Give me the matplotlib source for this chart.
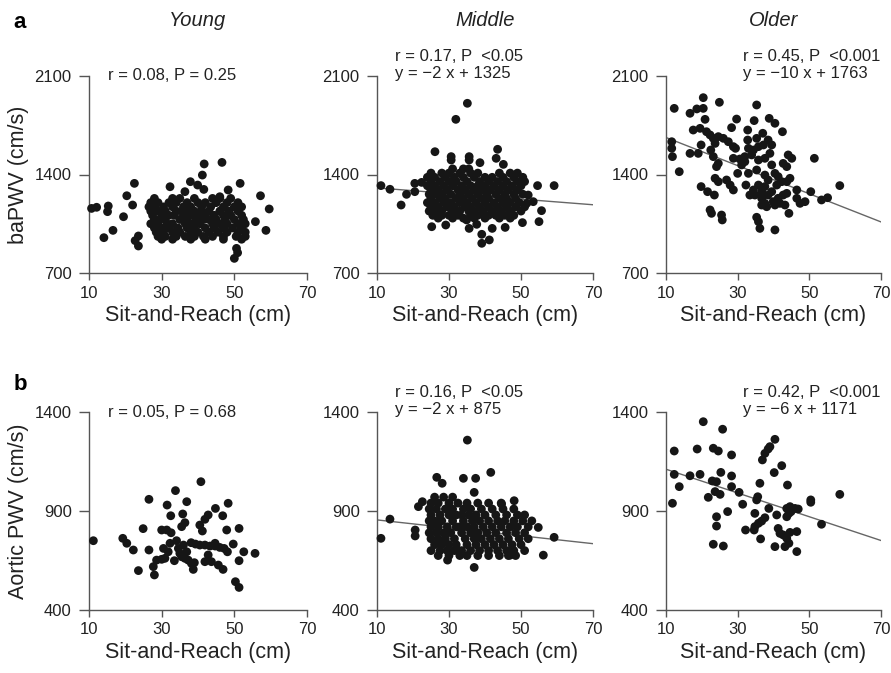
import matplotlib
matplotlib.use("Agg")
import matplotlib.pyplot as plt
import numpy as np

plt.rcParams["font.family"] = ["Liberation Sans", "DejaVu Sans"]

W, H = 891, 673

# --- data (sit-and-reach cm, PWV cm/s) ---
groups = ["Young", "Middle", "Older"]
x_ticks = [10, 30, 50, 70]
ba_ticks = [700, 1400, 2100]
ao_ticks = [400, 900, 1400]

young_ba = [
    (41.7, 1475), (46.6, 1486), (41.2, 1396), (22.5, 1337), (51.6, 1337), (37.9, 1349),
    (39.9, 1325), (41.6, 1294), (20.4, 1249), (57.2, 1249), (59.6, 1155), (22.0, 1183),
    (19.5, 1100), (16.6, 1003), (14.1, 951), (55.8, 1065), (58.7, 1003), (10.7, 1159),
    (12.1, 1167), (15.3, 1176), (15.1, 1136), (23.6, 963), (22.7, 930), (23.6, 892),
    (50.6, 875), (50.0, 804), (50.9, 844), (32.3, 1313), (36.4, 1278), (48.3, 1290),
    (46.0, 1242),
    (28, 1230), (33, 1230), (35, 1230), (39, 1230), (44, 1230), (46, 1230), (49, 1230),
    (27, 1200), (29, 1200), (32, 1200), (34, 1200), (37, 1200), (40, 1200), (42, 1200),
    (45, 1200), (48, 1200), (51, 1200),
    (26.5, 1170), (28, 1170), (30.5, 1170), (33, 1170), (36, 1170), (38, 1170), (41, 1170),
    (43.5, 1170), (47, 1170), (50, 1170), (52, 1170),
    (27, 1140), (29, 1140), (31, 1140), (34, 1140), (35.5, 1140), (37.5, 1140), (39, 1140),
    (41, 1140), (43, 1140), (46, 1140), (48.5, 1140), (51, 1140),
    (27.5, 1110), (30, 1110), (32, 1110), (33.5, 1110), (36, 1110), (38, 1110), (40, 1110),
    (42, 1110), (44.5, 1110), (47, 1110), (49, 1110), (52, 1110),
    (28, 1080), (29.5, 1080), (31, 1080), (35, 1080), (37, 1080), (39.5, 1080), (41.5, 1080),
    (43, 1080), (45, 1080), (47.5, 1080), (50, 1080), (52.5, 1080),
    (27, 1050), (29, 1050), (31.5, 1050), (33, 1050), (36.5, 1050), (38.5, 1050), (40.5, 1050),
    (44, 1050), (46, 1050), (48, 1050), (51, 1050), (53, 1050),
    (28, 1020), (30, 1020), (32, 1020), (34.5, 1020), (37, 1020), (39, 1020), (42, 1020),
    (44.5, 1020), (47, 1020), (49.5, 1020), (52, 1020),
    (28.5, 990), (30.5, 990), (33, 990), (35, 990), (38, 990), (40, 990), (43, 990),
    (45.5, 990), (48, 990), (51, 990), (53, 990),
    (29, 960), (31, 960), (34, 960), (36.5, 960), (39, 960), (41.5, 960), (44, 960),
    (47, 960), (50.5, 960), (53, 960),
    (30, 940), (33, 940), (38, 940), (42, 940), (47, 940), (52, 940),
]

middle_ba = [
    (35.1, 1906), (31.9, 1792), (26.1, 1562), (30.6, 1527), (30.6, 1503), (35.6, 1527),
    (35.6, 1503), (38.6, 1484), (43.5, 1579), (43.1, 1515), (45.1, 1472), (11.1, 1321),
    (13.6, 1295), (16.7, 1183), (18.2, 1259), (20.5, 1337), (22.4, 1344), (20.5, 1278),
    (54.6, 1321), (59.2, 1321), (55.7, 1143), (55.0, 1065), (50.4, 1058), (25.2, 1029),
    (29.1, 1041), (35.6, 1017), (39.1, 975), (39.1, 911), (41.2, 935), (34.9, 1077),
    (37.7, 1046), (42.0, 1017), (45.6, 1024), (52.0, 1254), (51.6, 1195), (53.4, 1207),
    (31, 1440), (34, 1440), (35.5, 1440),
    (25, 1410), (28, 1410), (30, 1410), (33, 1410), (36, 1410), (38, 1410), (44, 1410),
    (47, 1410), (49, 1410),
    (24, 1380), (26, 1380), (29, 1380), (31.5, 1380), (34, 1380), (37, 1380), (40, 1380),
    (42, 1380), (45, 1380), (48, 1380), (50.5, 1380),
    (25, 1350), (27.5, 1350), (30, 1350), (32, 1350), (35, 1350), (38.5, 1350), (41, 1350),
    (43.5, 1350), (46, 1350), (49, 1350), (51, 1350),
    (24, 1320), (26, 1320), (28.5, 1320), (31, 1320), (33.5, 1320), (36, 1320), (38, 1320),
    (40, 1320), (42.5, 1320), (45, 1320), (47.5, 1320), (50, 1320),
    (25, 1290), (27, 1290), (29.5, 1290), (32.5, 1290), (34.5, 1290), (37, 1290), (39.5, 1290),
    (41.5, 1290), (44, 1290), (46.5, 1290), (49, 1290),
    (24.5, 1260), (26.5, 1260), (28, 1260), (30.5, 1260), (33, 1260), (35.5, 1260), (38, 1260),
    (40.5, 1260), (43, 1260), (45.5, 1260), (48, 1260), (50.5, 1260),
    (25, 1230), (27.5, 1230), (29, 1230), (32, 1230), (34, 1230), (36.5, 1230), (39, 1230),
    (41, 1230), (44, 1230), (46, 1230), (48.5, 1230),
    (24, 1200), (26, 1200), (28.5, 1200), (30.5, 1200), (33, 1200), (35, 1200), (37.5, 1200),
    (40, 1200), (42.5, 1200), (45, 1200), (47, 1200), (49.5, 1200),
    (25, 1170), (27, 1170), (29.5, 1170), (31.5, 1170), (34.5, 1170), (36, 1170), (38.5, 1170),
    (41, 1170), (43.5, 1170), (46, 1170), (48.5, 1170), (51, 1170),
    (24.5, 1140), (26.5, 1140), (28, 1140), (31, 1140), (33, 1140), (35.5, 1140), (37, 1140),
    (39.5, 1140), (42, 1140), (44.5, 1140), (47, 1140), (50, 1140),
    (25.5, 1110), (28, 1110), (30, 1110), (32.5, 1110), (36, 1110), (38, 1110), (41, 1110),
    (43, 1110), (45.5, 1110), (48, 1110),
    (27, 1090), (31, 1090), (34, 1090), (37, 1090), (40, 1090), (44, 1090), (47, 1090),
]

older_ba = [
    (12.3, 1870), (20.4, 1946), (24.9, 1913), (35.3, 1894), (16.7, 1835), (18.6, 1866),
    (20.4, 1870), (20.9, 1792), (29.7, 1794), (34.6, 1783), (38.8, 1799), (40.4, 1764),
    (28.3, 1733), (32.8, 1716), (37.0, 1693), (42.5, 1704), (17.6, 1716), (19.5, 1728),
    (21.3, 1704), (22.3, 1681), (23.2, 1657), (24.6, 1669), (26.0, 1657), (23.7, 1621),
    (27.4, 1633), (28.8, 1598), (29.4, 1586), (11.6, 1633), (11.6, 1586), (11.8, 1527),
    (19.8, 1610), (16.7, 1550), (19.0, 1550), (22.5, 1574), (23.2, 1527), (24.6, 1479),
    (24.1, 1456), (13.7, 1420), (32.8, 1645), (33.0, 1586), (35.3, 1657), (35.8, 1598),
    (34.4, 1574), (38.5, 1645), (39.5, 1610), (37.2, 1610), (28.8, 1515), (30.6, 1510),
    (32.0, 1527), (33.9, 1539), (35.8, 1503), (37.6, 1515), (39.0, 1550), (31.1, 1468),
    (32.0, 1491), (30.0, 1408), (33.0, 1408), (35.3, 1432), (39.5, 1468), (42.7, 1479),
    (43.7, 1456), (44.1, 1539), (45.1, 1515), (51.4, 1515), (23.7, 1373), (24.6, 1349),
    (26.9, 1361), (27.9, 1325), (28.8, 1290), (19.8, 1314), (21.6, 1278), (23.5, 1254),
    (32.3, 1325), (37.6, 1396), (38.5, 1361), (40.4, 1408), (41.3, 1385), (42.3, 1349),
    (43.7, 1349), (44.6, 1373), (40.9, 1325), (39.5, 1278), (37.6, 1314), (36.7, 1278),
    (35.8, 1325), (34.4, 1290), (33.4, 1254), (34.8, 1254), (36.7, 1231), (37.6, 1195),
    (38.5, 1254), (39.9, 1207), (41.3, 1231), (42.7, 1254), (43.7, 1266), (43.2, 1183),
    (41.8, 1195), (40.4, 1183), (38.1, 1171), (36.7, 1183), (46.5, 1290), (46.5, 1231),
    (47.4, 1195), (48.8, 1207), (50.4, 1278), (53.4, 1219), (55.1, 1235), (58.5, 1321),
    (22.3, 1148), (22.7, 1124), (25.5, 1112), (25.7, 1077), (35.3, 1096), (35.8, 1065),
    (36.2, 1017), (40.4, 1006), (44.3, 1124),
]

young_ao = [
    (40.8, 1048), (33.8, 1003), (26.5, 959), (36.9, 947), (31.5, 930), (48.3, 939),
    (44.8, 913), (46.8, 876), (32.5, 876), (35.8, 885), (42.8, 880), (41.9, 858),
    (40.5, 829), (41.2, 799), (36.4, 841), (35.5, 821), (24.9, 811), (30.0, 804),
    (31.4, 804), (32.6, 790), (47.9, 804), (51.3, 812), (11.2, 750), (19.3, 762),
    (20.4, 737), (22.2, 703), (26.5, 703), (30.5, 711), (32.3, 737), (31.8, 694),
    (34.1, 750), (34.6, 711), (35.0, 686), (35.5, 669), (36.4, 661), (36.9, 694),
    (36.0, 728), (38.1, 740), (39.3, 733), (40.5, 728), (41.9, 728), (43.3, 723),
    (44.7, 723), (46.0, 716), (47.2, 711), (48.1, 694), (44.7, 737), (42.8, 678),
    (43.7, 644), (41.9, 644), (45.6, 627), (46.9, 605), (49.7, 733), (52.6, 694),
    (55.7, 686), (51.3, 649), (28.6, 652), (30.0, 656), (27.7, 619), (28.0, 577),
    (23.6, 599), (33.5, 649), (38.7, 605), (38.2, 635), (37.3, 652), (39.0, 639),
    (50.3, 543), (51.3, 514), (30.9, 661),
]

middle_ao = [
    (35.1, 1258), (41.6, 1095), (26.6, 1070), (28.1, 1040), (34.0, 1065), (37.4, 1065),
    (37.0, 994), (11.1, 762), (13.6, 859), (20.6, 804), (20.6, 774), (21.5, 922),
    (22.6, 947), (59.2, 767), (56.2, 677), (29.6, 652), (37.0, 615), (48.1, 952),
    (44.6, 935), (54.8, 817), (47.0, 677), (47.9, 686),
    (26, 970), (28.5, 970), (31, 970),
    (25, 940), (27, 940), (30, 940), (32.5, 940), (35, 940), (38, 940), (41, 940), (44.5, 940),
    (24.5, 910), (26.5, 910), (29, 910), (31, 910), (34, 910), (36, 910), (39, 910),
    (42, 910), (45, 910), (48, 910),
    (25, 880), (27.5, 880), (30, 880), (32, 880), (33.5, 880), (35.5, 880), (37.5, 880),
    (40, 880), (43, 880), (46, 880), (49, 880), (51, 880),
    (24.5, 850), (26, 850), (28, 850), (31, 850), (34, 850), (36.5, 850), (38.5, 850),
    (41, 850), (43.5, 850), (45.5, 850), (48, 850), (50.5, 850), (53, 850),
    (25, 820), (27, 820), (29.5, 820), (32, 820), (33, 820), (35, 820), (37, 820),
    (39.5, 820), (42, 820), (44.5, 820), (47, 820), (49, 820), (52, 820),
    (24.5, 790), (26.5, 790), (28.5, 790), (30.5, 790), (33.5, 790), (36, 790), (38, 790),
    (40.5, 790), (43, 790), (46, 790), (48.5, 790), (51, 790),
    (25, 760), (27, 760), (29, 760), (31.5, 760), (34.5, 760), (37, 760), (39, 760),
    (41.5, 760), (44, 760), (46.5, 760), (49.5, 760), (52, 760),
    (26, 730), (28, 730), (30, 730), (32, 730), (35, 730), (37.5, 730), (40, 730),
    (42.5, 730), (45, 730), (47.5, 730), (50, 730),
    (25, 700), (27.5, 700), (29.5, 700), (31.5, 700), (33.5, 700), (36, 700), (38.5, 700),
    (41, 700), (43.5, 700), (46, 700), (48, 700), (51, 700),
    (27, 675), (30, 675), (33, 675), (35, 675), (38, 675), (41, 675), (44, 675),
    (46.5, 675), (48.5, 675),
]

older_ao = [
    (20.4, 1351), (25.8, 1313), (40.4, 1262), (39.0, 1225), (38.5, 1213), (37.6, 1191),
    (36.9, 1158), (12.3, 1203), (18.7, 1213), (23.2, 1217), (24.6, 1203), (28.3, 1183),
    (42.3, 1129), (40.2, 1094), (12.3, 1085), (16.7, 1078), (19.5, 1085), (25.3, 1095),
    (28.3, 1077), (22.9, 1052), (24.1, 1048), (13.7, 1023), (28.3, 1023), (23.7, 998),
    (25.1, 984), (30.4, 994), (36.2, 1040), (43.9, 1031), (21.8, 969), (11.8, 939),
    (35.6, 972), (35.3, 956), (31.4, 934), (50.4, 956), (50.4, 944), (58.5, 984),
    (27.2, 897), (24.1, 871), (24.1, 824), (34.8, 888), (38.7, 913), (40.9, 880),
    (43.7, 913), (44.6, 922), (46.0, 913), (46.9, 910), (44.3, 888), (43.7, 871),
    (44.9, 897), (37.6, 866), (36.7, 849), (35.8, 838), (34.8, 821), (34.6, 804),
    (32.2, 804), (36.4, 759), (41.3, 812), (41.8, 787), (42.7, 779), (43.7, 762),
    (44.6, 792), (46.5, 796), (44.3, 737), (43.2, 720), (40.4, 720), (46.5, 695),
    (53.4, 833), (23.2, 732), (26.0, 723),
]

# regression (slope, intercept); None when not significant
ba_fits = [None, (-2, 1325), (-10, 1763)]
ao_fits = [None, (-2, 875), (-6, 1171)]

ba_stats = ["r = 0.08, P = 0.25",
            "r = 0.17, P  <0.05\ny = \u22122 x + 1325",
            "r = 0.45, P  <0.001\ny = \u221210 x + 1763"]
ao_stats = ["r = 0.05, P = 0.68",
            "r = 0.16, P  <0.05\ny = \u22122 x + 875",
            "r = 0.42, P  <0.001\ny = \u22126 x + 1171"]

# --- layout in pixels ---
col_left = [89, 377, 666]
col_width = [218, 216, 215]
row_box = [(76, 273), (412, 610)]   # (top, bottom)
INK = "#161616"
AXC = "#555555"


def px_axes(fig, left, top, width, bottom):
    return fig.add_axes([left / W, 1 - bottom / H, width / W, (bottom - top) / H])


def style(ax, yticks):
    ax.set_xlim(10, 70)
    ax.set_ylim(yticks[0], yticks[-1])
    ax.set_xticks(x_ticks)
    ax.set_yticks(yticks)
    for s in ("top", "right"):
        ax.spines[s].set_visible(False)
    for s in ("left", "bottom"):
        ax.spines[s].set_color(AXC)
        ax.spines[s].set_linewidth(1.0)
    ax.tick_params(axis="x", length=5, width=1, color=AXC, pad=4,
                   labelsize=12, labelcolor="#222222")
    ax.tick_params(axis="y", length=7, width=1, color=AXC, pad=5.5,
                   labelsize=12, labelcolor="#222222")
    ax.set_xlabel("Sit-and-Reach (cm)", fontsize=15.5, color="#222222", labelpad=3)


fig = plt.figure(figsize=(W / 100, H / 100), dpi=100)

rows = [
    ([young_ba, middle_ba, older_ba], ba_fits, ba_stats, ba_ticks, "baPWV (cm/s)"),
    ([young_ao, middle_ao, older_ao], ao_fits, ao_stats, ao_ticks, "Aortic PWV (cm/s)"),
]

for r, (pts_list, fits, stats, yticks, ylab) in enumerate(rows):
    top, bottom = row_box[r]
    for c in range(3):
        ax = px_axes(fig, col_left[c], top, col_width[c], bottom)
        style(ax, yticks)
        pts = np.array(pts_list[c])
        ax.scatter(pts[:, 0], pts[:, 1], s=40, color=INK, edgecolors="none",
                   clip_on=False, zorder=3)
        if fits[c] is not None:
            m, b = fits[c]
            xs = np.array([10, 70])
            ax.plot(xs, m * xs + b, color="#666666", lw=1.0, zorder=2)
        if c == 0:
            ax.set_ylabel(ylab, fontsize=15.5, color="#222222", labelpad=4)
        # stats text, top-left of each panel
        tx = [108, 395, 743][c]
        ty = top - (11 if "\n" in stats[c] else 0)
        fig.text(tx / W, 1 - ty / H, stats[c], fontsize=12, color="#222222",
                 ha="left", va="center", linespacing=1.15)

# group titles and panel letters
for c, g in enumerate(groups):
    fig.text((col_left[c] + col_width[c] / 2) / W, 1 - 21 / H, g, fontsize=14.5,
             style="italic", ha="center", va="center", color="#222222")
fig.text(20 / W, 1 - 22 / H, "a", fontsize=16, fontweight="bold", ha="center", va="center")
fig.text(20 / W, 1 - 385 / H, "b", fontsize=16, fontweight="bold", ha="center", va="center")

fig.savefig("out.png", dpi=100)
